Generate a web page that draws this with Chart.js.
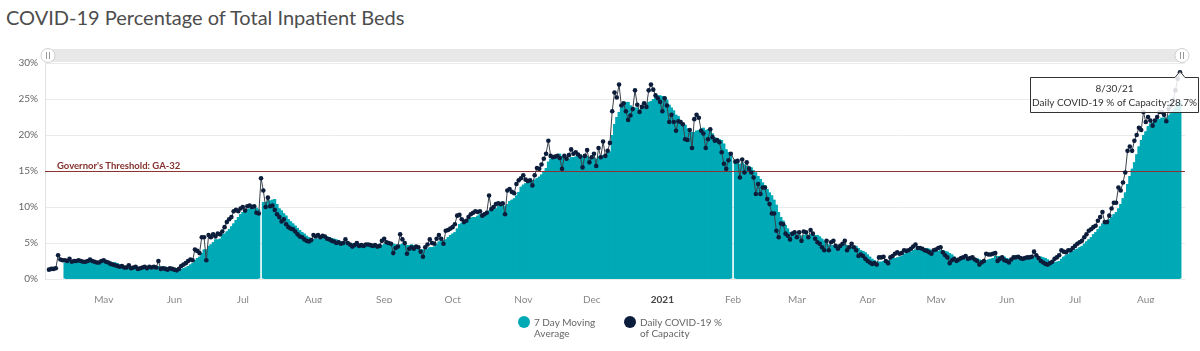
<!DOCTYPE html>
<html>
<head>
<meta charset="utf-8">
<title>COVID-19 Percentage of Total Inpatient Beds</title>
<script src="https://cdn.jsdelivr.net/npm/chart.js@4.4.0/dist/chart.umd.min.js"></script>
<style>
  html, body { margin: 0; padding: 0; background: #fff; }
  body { width: 1200px; height: 351px; position: relative; overflow: hidden; font-family: Lato, "Open Sans", sans-serif; }
  h1 { position: absolute; left: 6px; top: 5px; margin: 0; font-size: 20px; font-weight: 400; color: #4d4d4d; white-space: nowrap; }
  #chart { position: absolute; left: 0; top: 0; }
  .item { position: absolute; top: 316px; }
  .dot { position: absolute; left: 0; top: 0; width: 12px; height: 12px; border-radius: 50%; }
  .txt { position: absolute; left: 16px; top: 1px; font-size: 10px; line-height: 10.5px; color: #666; white-space: nowrap; }
</style>
</head>
<body>
<h1>COVID-19 Percentage of Total Inpatient Beds</h1>
<canvas id="chart" width="1200" height="351"></canvas>
<div class="item" style="left:518px"><span class="dot" style="background:#00a9b6"></span><span class="txt">7 Day Moving<br>Average</span></div>
<div class="item" style="left:624px"><span class="dot" style="background:#0c1d3b"></span><span class="txt">Daily COVID-19 %<br>of Capacity</span></div>
<script>
// one value per day, first day is 2020-04-21, last is 2021-08-30
const startDay = '2020-04-21';

const dailyPct = [
    1.3, 1.4, 1.4, 1.5, 3.3, 2.7, 2.6, 2.6, 2.5, 2.8,
    2.4, 2.5, 2.5, 2.6, 2.5, 2.4, 2.4, 2.5, 2.7, 2.5,
    2.4, 2.3, 2.3, 2.5, 2.6, 2.4, 2.3, 2.1, 2.0, 1.9,
    1.8, 1.7, 1.8, 1.6, 1.6, 1.9, 1.5, 1.6, 1.7, 1.4,
    1.5, 1.6, 1.7, 1.5, 1.7, 1.6, 1.7, 1.6, 2.5, 1.4,
    1.5, 1.4, 1.3, 1.5, 1.4, 1.3, 1.2, 1.4, 1.8, 2.0,
    2.2, 2.5, 2.7, 2.6, 4.1, 3.9, 3.6, 5.8, 5.8, 2.6,
    6.1, 5.8, 6.2, 5.9, 6.3, 6.2, 6.6, 7.2, 7.9, 8.3,
    8.6, 9.4, 9.6, 9.4, 9.8, 10.0, 9.5, 10.1, 10.2, 10.0,
    10.1, 9.2, 9.1, 14.0, 12.3, 10.0, 11.3, 10.1, 10.2, 9.6,
    9.0, 8.6, 8.0, 8.3, 7.6, 7.2, 7.0, 6.9, 6.6, 6.2,
    5.9, 5.8, 5.5, 5.3, 5.2, 5.4, 6.1, 5.9, 6.1, 5.8,
    6.0, 5.9, 5.6, 5.5, 5.3, 5.2, 5.0, 5.1, 4.9, 5.0,
    5.5, 5.0, 4.8, 4.5, 4.7, 5.0, 4.6, 4.7, 4.6, 4.8,
    4.8, 4.7, 4.6, 4.7, 4.5, 4.6, 5.3, 5.6, 5.1, 5.0,
    4.9, 3.6, 4.3, 4.5, 6.2, 5.5, 5.0, 3.5, 4.2, 4.4,
    4.2, 4.5, 4.4, 3.8, 3.1, 4.4, 4.8, 5.5, 5.0, 4.9,
    5.6, 6.1, 5.6, 4.9, 6.7, 6.8, 7.0, 7.2, 7.6, 8.8,
    8.9, 8.3, 7.9, 8.1, 8.6, 9.0, 9.2, 9.4, 9.3, 9.4,
    8.8, 9.0, 9.2, 11.6, 9.7, 10.0, 10.4, 10.5, 10.4, 10.5,
    9.0, 12.3, 12.5, 12.1, 11.9, 13.2, 13.7, 14.0, 14.4, 13.8,
    13.6, 13.7, 13.0, 14.4, 15.4, 15.3, 15.9, 16.7, 17.4, 19.2,
    17.1, 16.9, 17.0, 17.1, 16.8, 15.3, 17.1, 16.7, 17.2, 18.0,
    17.4, 17.6, 17.3, 17.0, 15.5, 17.1, 17.9, 16.2, 16.9, 17.4,
    15.7, 18.2, 16.9, 19.1, 17.1, 17.8, 18.9, 23.3, 25.9, 25.2,
    27.0, 24.1, 24.4, 23.3, 22.1, 22.7, 23.6, 26.2, 24.2, 23.2,
    23.9, 24.4, 23.9, 26.2, 27.0, 26.3, 25.5, 25.1, 24.6, 23.3,
    25.1, 24.1, 21.8, 22.8, 21.8, 20.6, 21.9, 21.8, 21.5, 19.4,
    19.3, 20.7, 18.2, 22.2, 22.8, 22.4, 20.6, 20.2, 18.2, 19.4,
    20.8, 19.7, 19.2, 19.3, 19.0, 17.6, 16.0, 15.3, 16.5, 17.4,
    null, 16.3, 16.4, 14.1, 16.6, 14.8, 16.2, 15.3, 14.8, 14.1,
    11.8, 13.2, 11.8, 12.7, 12.7, 11.1, 10.4, 9.1, 9.1, 6.7,
    5.8, 7.7, 7.6, 6.3, 6.0, 5.5, 6.3, 6.5, 5.8, 6.5,
    5.3, 6.6, 6.5, 5.8, 6.8, 6.3, 5.6, 5.1, 4.9, 4.4,
    4.0, 5.3, 4.0, 5.1, 5.3, 4.6, 4.2, 4.6, 4.9, 5.3,
    4.0, 4.4, 4.9, 4.4, 4.0, 3.2, 3.4, 3.2, 2.8, 2.5,
    2.3, 2.1, 2.2, 2.0, 3.0, 3.0, 3.1, 2.5, 2.2, 3.0,
    3.2, 3.5, 3.7, 3.5, 3.6, 4.0, 3.9, 4.0, 4.2, 4.5,
    4.8, 4.3, 4.3, 4.2, 4.0, 3.9, 3.7, 3.5, 4.0, 4.1,
    4.3, 4.4, 3.7, 3.3, 3.0, 2.2, 2.6, 2.8, 2.5, 2.7,
    2.9, 3.0, 3.2, 2.8, 2.9, 3.0, 2.7, 2.5, 2.0, 2.3,
    2.5, 3.5, 3.4, 3.4, 3.5, 3.6, 2.5, 2.8, 3.0, 2.6,
    2.5, 2.3, 2.7, 3.0, 3.0, 3.1, 2.9, 2.8, 2.9, 3.0,
    3.0, 3.1, 3.8, 3.3, 2.9, 2.5, 2.3, 2.1, 2.0, 2.2,
    2.4, 2.8, 3.0, 3.3, 4.0, 3.8, 3.7, 4.0, 4.0, 4.3,
    4.6, 4.9, 5.1, 5.3, 5.8, 6.2, 6.7, 6.9, 7.2, 7.4,
    8.1, 8.6, 9.3, 7.9, 7.9, 8.8, 9.8, 10.6, 10.6, 12.7,
    12.3, 13.4, 14.8, 17.8, 18.4, 17.8, 19.2, 20.0, 21.0, 20.7,
    23.2, 21.8, 22.5, 22.0, 21.3, 22.0, 22.5, 23.2, 23.2, 22.8,
    21.9, 23.6, 24.1, 24.8, 26.2, 27.8, 28.7
];

const avgPct = [
    null, null, null, null, null, null, null, 2.3, 2.4, 2.5,
    2.6, 2.6, 2.6, 2.6, 2.5, 2.5, 2.5, 2.5, 2.5, 2.5,
    2.5, 2.5, 2.4, 2.5, 2.5, 2.4, 2.4, 2.4, 2.3, 2.3,
    2.2, 2.0, 1.9, 1.8, 1.8, 1.8, 1.7, 1.7, 1.7, 1.6,
    1.6, 1.6, 1.6, 1.6, 1.6, 1.6, 1.6, 1.6, 1.8, 1.7,
    1.7, 1.7, 1.6, 1.6, 1.6, 1.4, 1.4, 1.4, 1.4, 1.5,
    1.6, 1.8, 2.0, 2.2, 2.6, 2.9, 3.1, 3.6, 4.1, 4.1,
    4.6, 4.8, 5.1, 5.5, 5.5, 5.6, 6.2, 6.3, 6.6, 6.9,
    7.3, 7.7, 8.2, 8.6, 9.0, 9.3, 9.5, 9.7, 9.8, 9.9,
    10.0, 9.9, 9.7, null, 10.7, 10.7, 10.9, 10.9, 11.0, 11.1,
    10.4, 9.8, 9.5, 9.1, 8.8, 8.3, 8.0, 7.7, 7.4, 7.1,
    6.8, 6.5, 6.3, 6.0, 5.8, 5.6, 5.6, 5.6, 5.6, 5.7,
    5.8, 5.9, 5.9, 5.8, 5.7, 5.6, 5.5, 5.4, 5.2, 5.1,
    5.1, 5.1, 5.0, 5.0, 4.9, 4.9, 4.9, 4.8, 4.7, 4.7,
    4.7, 4.7, 4.7, 4.7, 4.7, 4.7, 4.7, 4.9, 4.9, 5.0,
    5.0, 4.9, 4.8, 4.7, 4.8, 4.9, 4.9, 4.7, 4.7, 4.8,
    4.7, 4.5, 4.3, 4.1, 4.1, 4.1, 4.2, 4.4, 4.4, 4.5,
    4.8, 5.2, 5.4, 5.4, 5.5, 5.8, 6.1, 6.3, 6.5, 7.0,
    7.6, 7.8, 8.0, 8.1, 8.3, 8.5, 8.6, 8.6, 8.8, 9.0,
    9.1, 9.2, 9.2, 9.5, 9.6, 9.7, 9.8, 10.1, 10.3, 10.4,
    10.1, 10.4, 10.8, 11.0, 11.2, 11.6, 12.1, 12.8, 13.1, 13.3,
    13.5, 13.8, 13.7, 13.8, 14.0, 14.2, 14.5, 14.9, 15.4, 16.3,
    16.7, 16.9, 17.2, 17.3, 17.4, 17.1, 16.8, 16.7, 16.7, 16.9,
    16.9, 17.0, 17.3, 17.3, 17.1, 17.1, 17.1, 16.9, 16.8, 16.9,
    16.7, 17.1, 17.0, 17.2, 17.3, 17.5, 17.7, 20.0, 21.5, 22.5,
    23.2, 23.8, 24.3, 24.6, 24.6, 24.1, 23.9, 23.8, 23.8, 23.6,
    23.7, 24.0, 24.2, 24.6, 24.7, 25.0, 25.3, 25.5, 25.5, 25.4,
    25.3, 24.9, 24.2, 23.8, 23.4, 22.8, 22.6, 22.1, 21.7, 21.4,
    20.9, 20.7, 20.4, 20.4, 20.6, 20.7, 20.9, 21.0, 20.7, 20.8,
    20.6, 20.2, 19.7, 19.5, 19.4, 19.3, 18.8, 18.0, 17.6, 17.3,
    null, 16.5, 16.3, 16.0, 16.2, 15.9, 15.7, 15.7, 15.5, 15.1,
    14.8, 14.3, 13.9, 13.4, 13.0, 12.5, 12.0, 11.6, 11.0, 10.3,
    9.3, 8.6, 8.1, 7.5, 7.0, 6.5, 6.5, 6.6, 6.3, 6.1,
    6.0, 6.1, 6.2, 6.1, 6.2, 6.3, 6.1, 6.1, 5.9, 5.6,
    5.3, 5.1, 4.8, 4.7, 4.7, 4.7, 4.6, 4.7, 4.7, 4.9,
    4.7, 4.6, 4.6, 4.6, 4.6, 4.3, 4.0, 3.9, 3.7, 3.4,
    3.1, 2.8, 2.6, 2.4, 2.4, 2.4, 2.5, 2.6, 2.6, 2.7,
    2.9, 2.9, 3.0, 3.1, 3.2, 3.5, 3.6, 3.7, 3.8, 4.0,
    4.1, 4.2, 4.3, 4.3, 4.3, 4.3, 4.2, 4.0, 3.9, 3.9,
    3.9, 4.0, 4.0, 3.9, 3.8, 3.6, 3.4, 3.1, 2.9, 2.7,
    2.7, 2.7, 2.8, 2.8, 2.9, 2.9, 2.9, 2.9, 2.7, 2.6,
    2.6, 2.6, 2.7, 2.8, 2.9, 3.2, 3.2, 3.2, 3.2, 3.1,
    2.9, 2.8, 2.6, 2.7, 2.7, 2.7, 2.8, 2.8, 2.9, 3.0,
    3.0, 3.0, 3.1, 3.1, 3.1, 3.1, 3.0, 2.9, 2.7, 2.5,
    2.3, 2.3, 2.4, 2.5, 2.8, 3.1, 3.3, 3.5, 3.7, 3.9,
    4.1, 4.2, 4.4, 4.6, 4.9, 5.2, 5.5, 5.8, 6.2, 6.5,
    6.9, 7.3, 7.7, 7.9, 8.1, 8.3, 8.6, 9.0, 9.3, 9.8,
    10.4, 11.2, 12.0, 13.2, 14.3, 15.3, 16.2, 17.3, 18.4, 19.3,
    20.0, 20.5, 21.2, 21.6, 21.8, 21.9, 22.2, 22.2, 22.4, 22.4,
    22.4, 22.7, 23.0, 23.4, 23.8, 24.5, 24.8
];

// month labels sit in the middle of each month
const tickDates = ['2020-05-15', '2020-06-15', '2020-07-15', '2020-08-15', '2020-09-15', '2020-10-15',
    '2020-11-15', '2020-12-15', '2021-01-15', '2021-02-15', '2021-03-15', '2021-04-15',
    '2021-05-15', '2021-06-15', '2021-07-15', '2021-08-15'];
const tickLabels = ['May', 'Jun', 'Jul', 'Aug', 'Sep', 'Oct', 'Nov', 'Dec', '2021', 'Feb', 'Mar', 'Apr', 'May', 'Jun', 'Jul', 'Aug'];

const threshold = 15;
const thresholdLabel = "Governor's Threshold: GA-32";

function toUTC(iso) {
    const p = iso.split('-').map(Number);
    return Date.UTC(p[0], p[1] - 1, p[2]);
}
function dayIndex(iso) {
    return Math.round((toUTC(iso) - toUTC(startDay)) / 864e5);
}
function shortDate(idx) {
    const d = new Date(toUTC(startDay) + idx * 864e5);
    return (d.getUTCMonth() + 1) + '/' + d.getUTCDate() + '/' + String(d.getUTCFullYear()).slice(2);
}

const teal = '#00a9b6';
const navy = '#0c1d3b';

Chart.defaults.font.family = 'Lato, "Open Sans", sans-serif';

const extras = {
    id: 'extras',
    beforeDraw(chart) {
        const { ctx, chartArea: a } = chart;
        ctx.save();
        // navigator strip with its two handles
        ctx.fillStyle = '#e8e8e8';
        ctx.fillRect(a.left, a.top - 14, a.right - a.left, 13);
        [a.left + 3, a.right - 3].forEach(function (hx) {
            ctx.beginPath();
            ctx.arc(hx, a.top - 7.5, 7, 0, Math.PI * 2);
            ctx.fillStyle = '#fff';
            ctx.fill();
            ctx.strokeStyle = '#d0d0d0';
            ctx.lineWidth = 1;
            ctx.stroke();
            ctx.strokeStyle = '#999';
            ctx.beginPath();
            ctx.moveTo(hx - 1.5, a.top - 11); ctx.lineTo(hx - 1.5, a.top - 4);
            ctx.moveTo(hx + 1.5, a.top - 11); ctx.lineTo(hx + 1.5, a.top - 4);
            ctx.stroke();
        });
        ctx.restore();
    },
    beforeDatasetDraw(chart, args) {
        if (args.index !== 0) return;
        const { ctx, chartArea: a } = chart;
        const y = Math.round(chart.scales.y.getPixelForValue(threshold)) + 0.5;
        ctx.save();
        ctx.strokeStyle = '#8c3232';
        ctx.lineWidth = 1;
        ctx.beginPath();
        ctx.moveTo(a.left, y);
        ctx.lineTo(a.right, y);
        ctx.stroke();
        ctx.fillStyle = '#82302f';
        ctx.font = 'bold 9.5px Lato, "Open Sans", sans-serif';
        ctx.textBaseline = 'alphabetic';
        ctx.fillText(thresholdLabel, a.left + 12, y - 3);
        ctx.restore();
    },
    afterDraw(chart) {
        // hover tooltip on the last day
        const { ctx } = chart;
        const meta = chart.getDatasetMeta(0);
        const last = dailyPct.length - 1;
        const pt = meta.data[last];
        const px = pt.x, py = pt.y;
        const left = 1030.5, right = 1198.5, top = Math.round(py) + 5.5, bottom = top + 35;
        ctx.save();
        ctx.beginPath();
        ctx.moveTo(left, top);
        ctx.lineTo(px - 5, top);
        ctx.lineTo(px, py - 1);
        ctx.lineTo(px + 5, top);
        ctx.lineTo(right, top);
        ctx.lineTo(right, bottom);
        ctx.lineTo(left, bottom);
        ctx.closePath();
        ctx.fillStyle = 'rgba(255,255,255,0.85)';
        ctx.fill();
        ctx.strokeStyle = '#333';
        ctx.lineWidth = 1;
        ctx.stroke();
        ctx.fillStyle = '#333';
        ctx.font = '10px Lato, "Open Sans", sans-serif';
        ctx.textAlign = 'center';
        ctx.textBaseline = 'middle';
        const cx = (left + right) / 2;
        ctx.fillText(shortDate(last), cx, top + 11);
        ctx.fillText('Daily COVID-19 % of Capacity:' + dailyPct[last].toFixed(1) + '%', cx, top + 25);
        ctx.restore();
    }
};

new Chart(document.getElementById('chart'), {
    type: 'line',
    data: {
        labels: dailyPct.map(function (_, i) { return i; }),
        datasets: [
            {
                type: 'line',
                label: 'Daily COVID-19 % of Capacity',
                data: dailyPct,
                borderColor: '#3b414a',
                borderWidth: 1,
                pointRadius: 2.3,
                pointBorderWidth: 0,
                pointBackgroundColor: navy,
                spanGaps: true,
                tension: 0
            },
            {
                // columns: give the stepped edge and the narrow gaps on missing days
                type: 'bar',
                label: '7 Day Moving Average',
                data: avgPct,
                backgroundColor: teal,
                borderWidth: 0,
                barPercentage: 1.3,
                categoryPercentage: 1,
                inflateAmount: 0
            },
            {
                // solid stepped fill under the columns
                type: 'line',
                label: '7 Day Moving Average fill',
                data: avgPct,
                stepped: 'middle',
                fill: 'origin',
                backgroundColor: teal,
                borderWidth: 0,
                pointRadius: 0,
                spanGaps: false
            }
        ]
    },
    options: {
        responsive: false,
        animation: false,
        events: [],
        layout: { padding: { top: 63, right: 15, bottom: 48, left: 0 } },
        plugins: {
            legend: { display: false },
            tooltip: { enabled: false }
        },
        scales: {
            x: {
                type: 'linear',
                min: -1.75,
                max: 498.2,
                offset: false,
                grid: { display: false },
                border: { display: false },
                afterBuildTicks: function (scale) {
                    scale.ticks = tickDates.map(function (d) { return { value: dayIndex(d) }; });
                },
                afterFit: function (scale) { scale.height = 24; },
                ticks: {
                    autoSkip: false,
                    maxRotation: 0,
                    padding: 7,
                    callback: function (v, i) { return tickLabels[i]; },
                    color: function (c) { return tickLabels[c.index] === '2021' ? '#444' : '#888'; },
                    font: function (c) {
                        return tickLabels[c.index] === '2021' ? { size: 10, weight: 'bold' } : { size: 10 };
                    }
                }
            },
            y: {
                min: 0,
                max: 30,
                afterFit: function (scale) { scale.width = 45; },
                grid: { color: '#ebebeb', drawTicks: false },
                border: { display: true, color: '#e2e2e2' },
                ticks: {
                    stepSize: 5,
                    padding: 7,
                    color: '#666',
                    font: { size: 10 },
                    callback: function (v) { return v + '%'; }
                }
            }
        }
    },
    plugins: [extras]
});
</script>
</body>
</html>
